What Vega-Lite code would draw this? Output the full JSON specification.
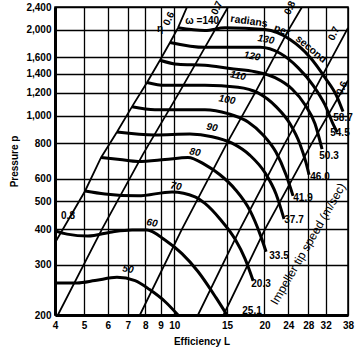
{
  "$schema": "https://vega.github.io/schema/vega-lite/v6.json",
  "width": 293,
  "height": 308,
  "autosize": {"type": "none"},
  "padding": {"left": 55, "top": 7, "right": 16, "bottom": 37},
  "background": "white",
  "config": {
    "view": {"stroke": "black", "strokeWidth": 1.5},
    "font": "Liberation Sans",
    "axis": {
      "domainColor": "black", "domainWidth": 3, "gridColor": "black", "gridWidth": 1.3, "gridOpacity": 1,
      "ticks": false, "labelFont": "Liberation Sans", "labelFontSize": 10, "labelFontWeight": "bold",
      "labelColor": "black", "titleFont": "Liberation Sans", "titleFontSize": 10, "titleFontWeight": "bold",
      "titleColor": "black", "labelOverlap": false, "labelFlush": false
    }
  },
  "datasets": {
    "curves": [
      {"w": 50, "L": 4.0, "p": 259}, {"w": 50, "L": 4.74, "p": 259}, {"w": 50, "L": 5.44, "p": 264}, {"w": 50, "L": 6.44, "p": 271}, {"w": 50, "L": 7.4, "p": 264}, {"w": 50, "L": 8.3, "p": 245}, {"w": 50, "L": 9.31, "p": 223}, {"w": 50, "L": 10.29, "p": 200},
      {"w": 60, "L": 4.0, "p": 394}, {"w": 60, "L": 4.39, "p": 384}, {"w": 60, "L": 5.15, "p": 378}, {"w": 60, "L": 6.2, "p": 391}, {"w": 60, "L": 7.23, "p": 397}, {"w": 60, "L": 8.11, "p": 397}, {"w": 60, "L": 9.31, "p": 366}, {"w": 60, "L": 10.61, "p": 328}, {"w": 60, "L": 12.0, "p": 284}, {"w": 60, "L": 13.78, "p": 230}, {"w": 60, "L": 14.99, "p": 200},
      {"w": 70, "L": 5.04, "p": 544}, {"w": 70, "L": 5.87, "p": 531}, {"w": 70, "L": 7.57, "p": 523}, {"w": 70, "L": 9.83, "p": 540}, {"w": 70, "L": 11.73, "p": 519}, {"w": 70, "L": 12.66, "p": 492}, {"w": 70, "L": 14.21, "p": 434}, {"w": 70, "L": 15.95, "p": 369}, {"w": 70, "L": 17.22, "p": 315}, {"w": 70, "L": 18.32, "p": 264},
      {"w": 80, "L": 5.7, "p": 713}, {"w": 80, "L": 6.59, "p": 701}, {"w": 80, "L": 7.57, "p": 690}, {"w": 80, "L": 9.31, "p": 701}, {"w": 80, "L": 11.11, "p": 713}, {"w": 80, "L": 12.66, "p": 673}, {"w": 80, "L": 14.21, "p": 620}, {"w": 80, "L": 15.95, "p": 552}, {"w": 80, "L": 17.9, "p": 464}, {"w": 80, "L": 19.33, "p": 384}, {"w": 80, "L": 20.25, "p": 333},
      {"w": 90, "L": 6.44, "p": 875}, {"w": 90, "L": 8.62, "p": 855}, {"w": 90, "L": 11.28, "p": 861}, {"w": 90, "L": 13.37, "p": 843}, {"w": 90, "L": 15.59, "p": 800}, {"w": 90, "L": 17.9, "p": 725}, {"w": 90, "L": 20.09, "p": 630}, {"w": 90, "L": 21.86, "p": 531}, {"w": 90, "L": 23.24, "p": 434},
      {"w": 100, "L": 7.23, "p": 1074}, {"w": 100, "L": 8.62, "p": 1048}, {"w": 100, "L": 12.66, "p": 1048}, {"w": 100, "L": 15.12, "p": 1015}, {"w": 100, "L": 17.63, "p": 949}, {"w": 100, "L": 19.79, "p": 855}, {"w": 100, "L": 21.86, "p": 743}, {"w": 100, "L": 23.6, "p": 620}, {"w": 100, "L": 24.91, "p": 523},
      {"w": 110, "L": 8.11, "p": 1306}, {"w": 110, "L": 9.31, "p": 1276}, {"w": 110, "L": 12.66, "p": 1276}, {"w": 110, "L": 16.32, "p": 1257}, {"w": 110, "L": 19.04, "p": 1200}, {"w": 110, "L": 21.86, "p": 1074}, {"w": 110, "L": 24.34, "p": 935}, {"w": 110, "L": 26.28, "p": 793}, {"w": 110, "L": 27.52, "p": 684}, {"w": 110, "L": 28.17, "p": 620},
      {"w": 120, "L": 8.96, "p": 1562}, {"w": 120, "L": 10.29, "p": 1511}, {"w": 120, "L": 12.66, "p": 1499}, {"w": 120, "L": 15.35, "p": 1460}, {"w": 120, "L": 18.6, "p": 1424}, {"w": 120, "L": 21.69, "p": 1357}, {"w": 120, "L": 24.72, "p": 1238}, {"w": 120, "L": 27.31, "p": 1091}, {"w": 120, "L": 29.49, "p": 935}, {"w": 120, "L": 31.13, "p": 762},
      {"w": 130, "L": 9.68, "p": 1803}, {"w": 130, "L": 12.66, "p": 1733}, {"w": 130, "L": 15.35, "p": 1733}, {"w": 130, "L": 19.33, "p": 1733}, {"w": 130, "L": 22.54, "p": 1652}, {"w": 130, "L": 25.88, "p": 1472}, {"w": 130, "L": 29.06, "p": 1276}, {"w": 130, "L": 31.85, "p": 1089}, {"w": 130, "L": 33.86, "p": 935}, {"w": 130, "L": 34.93, "p": 875},
      {"w": 140, "L": 10.29, "p": 2029}, {"w": 140, "L": 12.66, "p": 1985}, {"w": 140, "L": 14.77, "p": 2029}, {"w": 140, "L": 20.09, "p": 2000}, {"w": 140, "L": 24.34, "p": 1846}, {"w": 140, "L": 28.38, "p": 1600}, {"w": 140, "L": 31.85, "p": 1357}, {"w": 140, "L": 34.93, "p": 1163}, {"w": 140, "L": 36.57, "p": 1032}
    ],
    "eta": [
      {"k": "a", "L": 4.0, "p": 358}, {"k": "a", "L": 5.04, "p": 544}, {"k": "a", "L": 5.7, "p": 713}, {"k": "a", "L": 6.44, "p": 875}, {"k": "a", "L": 7.23, "p": 1074}, {"k": "a", "L": 8.11, "p": 1306}, {"k": "a", "L": 8.96, "p": 1562}, {"k": "a", "L": 9.68, "p": 1803}, {"k": "a", "L": 10.29, "p": 2029}, {"k": "a", "L": 11.03, "p": 2400},
      {"k": "b", "L": 4.09, "p": 200}, {"k": "b", "L": 5.74, "p": 400}, {"k": "b", "L": 7.86, "p": 731}, {"k": "b", "L": 10.37, "p": 1200}, {"k": "b", "L": 12.66, "p": 1733}, {"k": "b", "L": 15.12, "p": 2400},
      {"k": "c", "L": 7.68, "p": 200}, {"k": "c", "L": 10.61, "p": 400}, {"k": "c", "L": 15.0, "p": 800}, {"k": "c", "L": 18.6, "p": 1200}, {"k": "c", "L": 24.1, "p": 2000}, {"k": "c", "L": 26.69, "p": 2400},
      {"k": "d", "L": 12.0, "p": 200}, {"k": "d", "L": 16.57, "p": 400}, {"k": "d", "L": 23.42, "p": 800}, {"k": "d", "L": 29.05, "p": 1200}, {"k": "d", "L": 38, "p": 2029},
      {"k": "e", "L": 14.6, "p": 200}, {"k": "e", "L": 20.09, "p": 400}, {"k": "e", "L": 28.8, "p": 800}, {"k": "e", "L": 38, "p": 1328}
    ],
    "wlab": [
      {"t": "50", "L": 7.01, "p": 289}, {"t": "60", "L": 8.43, "p": 420}, {"t": "70", "L": 10.13, "p": 565}, {"t": "80", "L": 11.73, "p": 743}, {"t": "90", "L": 13.37, "p": 908}, {"t": "100", "L": 14.99, "p": 1135}, {"t": "110", "L": 16.32, "p": 1378}, {"t": "120", "L": 18.18, "p": 1613}, {"t": "130", "L": 20.25, "p": 1846}
    ],
    "tip": [
      {"t": "58.7", "L": 36.57, "p": 978}, {"t": "54.5", "L": 35.73, "p": 868}, {"t": "50.3", "L": 32.85, "p": 719}, {"t": "46.0", "L": 30.65, "p": 610}, {"t": "41.9", "L": 26.9, "p": 512}, {"t": "37.7", "L": 25.1, "p": 430}, {"t": "33.5", "L": 22.37, "p": 323}, {"t": "20.3", "L": 19.48, "p": 256}, {"t": "25.1", "L": 18.18, "p": 207}
    ],
    "etalab": [
      {"t": "0.6", "L": 9.6, "p": 2183}, {"t": "0.7", "L": 13.89, "p": 2383}, {"t": "0.8", "L": 24.34, "p": 2383}, {"t": "0.7", "L": 34.12, "p": 1937}, {"t": "0.6", "L": 36.3, "p": 1247}
    ],
    "plain": [
      {"t": "0.8", "L": 4.42, "p": 445}, {"t": "η", "L": 8.96, "p": 2015}, {"t": "ω =140", "L": 12.4, "p": 2151}
    ]
  },
  "encoding": {
    "x": {"field": "L", "type": "quantitative", "scale": {"type": "log", "domain": [4, 38], "nice": false},
      "axis": {"values": [4, 5, 6, 7, 8, 9, 10, 15, 20, 24, 28, 32, 38], "title": "Efficiency L", "labelPadding": 5, "titlePadding": 6}},
    "y": {"field": "p", "type": "quantitative", "scale": {"type": "log", "domain": [200, 2400], "nice": false},
      "axis": {"values": [200, 300, 400, 500, 600, 800, 1000, 1200, 1400, 1600, 2000, 2400], "format": ",d", "title": "Pressure p", "labelPadding": 4, "titlePadding": 6}}
  },
  "layer": [
    {"data": {"name": "eta"}, "mark": {"type": "line", "color": "black", "strokeWidth": 1.8, "clip": true}, "encoding": {"detail": {"field": "k"}}},
    {"data": {"name": "curves"}, "mark": {"type": "line", "color": "black", "strokeWidth": 3, "interpolate": "monotone", "clip": true}, "encoding": {"detail": {"field": "w"}}},
    {"data": {"name": "wlab"}, "mark": {"type": "text", "fontSize": 10, "fontWeight": "bold", "fontStyle": "italic", "angle": 10, "color": "black"}, "encoding": {"text": {"field": "t"}}},
    {"data": {"name": "tip"}, "mark": {"type": "text", "fontSize": 10, "fontWeight": "bold", "color": "black"}, "encoding": {"text": {"field": "t"}}},
    {"data": {"name": "etalab"}, "mark": {"type": "text", "fontSize": 10, "fontWeight": "bold", "angle": -65, "color": "black"}, "encoding": {"text": {"field": "t"}}},
    {"data": {"name": "plain"}, "mark": {"type": "text", "fontSize": 10, "fontWeight": "bold", "color": "black"}, "encoding": {"text": {"field": "t"}}},
    {"data": {"values": [{"t": "radians", "L": 17.76, "p": 2136}]}, "mark": {"type": "text", "fontSize": 10.5, "fontWeight": "bold", "angle": 8, "color": "black"}, "encoding": {"text": {"field": "t"}}},
    {"data": {"values": [{"t": "per", "L": 22.89, "p": 1984}]}, "mark": {"type": "text", "fontSize": 10.5, "fontWeight": "bold", "angle": 20, "color": "black"}, "encoding": {"text": {"field": "t"}}},
    {"data": {"values": [{"t": "second", "L": 28.6, "p": 1706}]}, "mark": {"type": "text", "fontSize": 10.5, "fontWeight": "bold", "angle": 40, "color": "black"}, "encoding": {"text": {"field": "t"}}},
    {"data": {"values": [{"t": "Impeller tip speed (m/sec)", "L": 27.95, "p": 355}]}, "mark": {"type": "text", "fontSize": 12, "angle": -60, "color": "black"}, "encoding": {"text": {"field": "t"}}}
  ]
}
